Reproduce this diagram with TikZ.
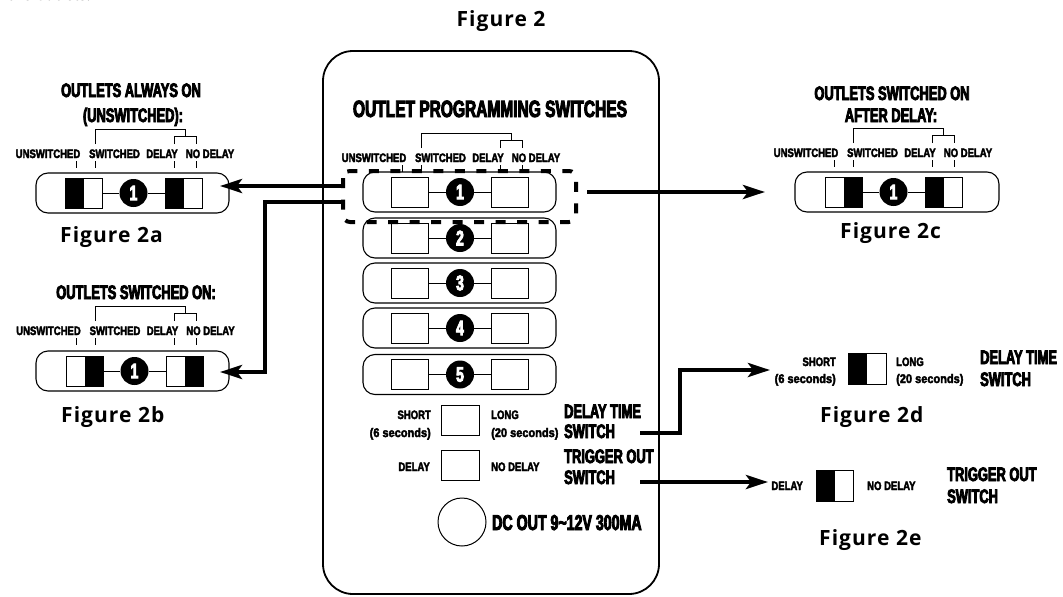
\documentclass[tikz,border=0pt]{standalone}
\usepackage{fontspec}
\usetikzlibrary{arrows.meta}
\setmainfont{Open Sans}
\newfontfamily\figfont[LetterSpace=5]{Open Sans}
\newfontfamily\cfl[FakeStretch=0.66,FakeBold=4]{Liberation Sans Bold}
\newfontfamily\cfs[FakeStretch=0.78,FakeBold=3]{Liberation Sans Bold}
\newfontfamily\cfm[FakeStretch=0.88,FakeBold=3]{Liberation Sans Bold}
\tikzset{
  sq/.style={draw, line width=1pt, minimum width=37pt, minimum height=30pt, inner sep=0pt, fill=white},
  numc/.style={circle, fill=black, minimum size=28pt, inner sep=0pt, text=white, font=\cfl\fontsize{21}{21}\selectfont},
  lab/.style={inner sep=0pt, font=\cfs\fontsize{12.2}{13}\selectfont},
  labp/.style={inner sep=0pt, font=\cfm\fontsize{12.5}{13}\selectfont},
  ttl/.style={inner sep=0pt, font=\cfl\fontsize{19.5}{21}\selectfont},
  big/.style={inner sep=0pt, font=\cfl\fontsize{19.5}{21}\selectfont},
  rowbox/.style={draw, line width=1.1pt, rounded corners=12pt},
  thinl/.style={line width=0.9pt},
  arr/.style={line width=4pt, -{Stealth[length=22pt,width=14pt,inset=5pt]}},
  fig/.style={inner sep=0pt, font=\figfont\bfseries\fontsize{21}{24}\selectfont},
}
\newcommand\halffill[2]{\ifcase#2\relax\or\fill (#1.north west) rectangle (#1.south);\or\fill (#1.north) rectangle (#1.south east);\fi}
\newcommand\swrow[8]{%
  \draw[rowbox] ({#2+#5},{#3-20}) rectangle ({#2+#6},{#3+20});
  \node[sq] (#1l) at ({#2-50},#3) {};
  \node[sq] (#1r) at ({#2+50},#3) {};
  \node[numc] (#1n) at (#2,#3) {#4};
  \draw[thinl] (#1l) -- (#1n) -- (#1r);
  \halffill{#1l}{#7}\halffill{#1r}{#8}%
}
\newcommand\lblset[3]{%
  \begin{scope}[shift={(#2,#3)}]
    \node[lab, anchor=base] (#1u) at (374,162) {UNSWITCHED};
    \node[lab, anchor=base] (#1s) at (440.5,162) {SWITCHED};
    \node[lab, anchor=base] (#1d) at (488,162) {DELAY};
    \node[lab, anchor=base] (#1nd) at (536,162) {NO DELAY};
    \draw[thinl] (402,165) -- (402,172) (421,165) -- (421,172)
                 (500,165) -- (500,172) (522,165) -- (522,172);
    \draw[thinl] (421,148) |- (511,133) -- (511,140);
    \draw[thinl] (500,148) |- (522,140) -- (522,148);
  \end{scope}
}
\begin{document}
\begin{tikzpicture}[x=1pt,y=-1pt]
\useasboundingbox (0,0) rectangle (1063,597);

% cut-off text at top left
\node[anchor=base west, inner sep=0pt, font=\itshape\fontsize{17}{20}\selectfont] (cut) at (-3,1) {r the outlets.};

% title
\node[fig, anchor=base] (fig2) at (501,27) {Figure 2};

% main panel
\draw[line width=1.8pt, rounded corners=30pt] (323,51) rectangle (659,594);
\node[inner sep=0pt, anchor=base, font=\cfl\fontsize{23.5}{25}\selectfont] (ops) at (490,117) {OUTLET PROGRAMMING SWITCHES};

\lblset{m}{0}{0}
\swrow{ra}{460}{192}{1}{-97}{96}{0}{0}
\swrow{rb}{460}{238}{2}{-97}{96}{0}{0}
\swrow{rc}{460}{283}{3}{-97}{96}{0}{0}
\swrow{rd}{460}{328}{4}{-97}{96}{0}{0}
\swrow{re}{460}{374.5}{5}{-97}{96}{0}{0}

% selection highlight
\draw[line width=4pt, dash pattern=on 10pt off 11.5pt, rounded corners=7pt] (343,171) rectangle (576,222);

% delay time switch
\node[sq, minimum width=38pt] (dts) at (460,420) {};
\node[lab, anchor=base east] (dtshort) at (431,419) {SHORT};
\node[labp, anchor=base east] (dtsix) at (431,437) {(6 seconds)};
\node[lab, anchor=base west] (dtlong) at (491,419) {LONG};
\node[labp, anchor=base west] (dttw) at (491,437) {(20 seconds)};
\node[big, anchor=base west] (dtt1) at (564,418) {DELAY TIME};
\node[big, anchor=base west] (dtt2) at (564,438) {SWITCH};

% trigger out switch
\node[sq, minimum width=38pt] (tos) at (460,465) {};
\node[lab, anchor=base east] (todel) at (430,471) {DELAY};
\node[lab, anchor=base west] (tonod) at (491,471) {NO DELAY};
\node[big, anchor=base west] (tot1) at (564,463) {TRIGGER OUT};
\node[big, anchor=base west] (tot2) at (564,484) {SWITCH};

% DC out
\node[circle, draw, line width=1pt, minimum size=48pt, inner sep=0pt] (dc) at (462,522) {};
\node[inner sep=0pt, anchor=base west, font=\cfl\fontsize{21.5}{23}\selectfont] (dct) at (492,530) {DC OUT 9\textasciitilde12V 300MA};

% Figure 2a
\node[ttl, anchor=base] (at1) at (131,97) {OUTLETS ALWAYS ON};
\node[ttl, anchor=base] (at2) at (133,122) {(UNSWITCHED):};
\lblset{a}{-326}{-4}
\swrow{fa}{133.5}{193}{1}{-97.5}{95.5}{1}{1}
\node[fig, anchor=base west] (fig2a) at (60,242) {Figure 2a};

% Figure 2b
\node[ttl, anchor=base] (bt1) at (136,299) {OUTLETS SWITCHED ON:};
\lblset{b}{-325.5}{173}
\swrow{fb}{134.5}{371}{1}{-98.5}{94.5}{2}{2}
\node[fig, anchor=base west] (fig2b) at (61,422) {Figure 2b};

% Figure 2c
\node[ttl, anchor=base] (ct1) at (892,100) {OUTLETS SWITCHED ON};
\node[ttl, anchor=base] (ct2) at (891,122) {AFTER DELAY:};
\lblset{c}{432}{-5}
\swrow{fc}{893.5}{192}{1}{-98.5}{105.5}{2}{1}
\node[fig, anchor=base west] (fig2c) at (840,238) {Figure 2c};

% Figure 2d
\node[sq, minimum width=38pt, minimum height=31pt] (fds) at (867,368.5) {};
\fill (fds.north west) rectangle (fds.south);
\node[lab, anchor=base east] (dshort) at (836,366) {SHORT};
\node[labp, anchor=base east] (dsix) at (836,383) {(6 seconds)};
\node[lab, anchor=base west] (dlong) at (896,366) {LONG};
\node[labp, anchor=base west] (dtw) at (896,383) {(20 seconds)};
\node[big, anchor=base west] (dt1) at (980,364) {DELAY TIME};
\node[big, anchor=base west] (dt2) at (980,386) {SWITCH};
\node[fig, anchor=base west] (fig2d) at (820,422) {Figure 2d};

% Figure 2e
\node[sq, minimum width=37pt, minimum height=31pt] (fes) at (834.5,485.5) {};
\fill (fes.north west) rectangle (fes.south);
\node[lab, anchor=base east] (edel) at (803,490) {DELAY};
\node[lab, anchor=base west] (enod) at (867,490) {NO DELAY};
\node[big, anchor=base west] (et1) at (947,481) {TRIGGER OUT};
\node[big, anchor=base west] (et2) at (947,503) {SWITCH};
\node[fig, anchor=base west] (fig2e) at (819,545) {Figure 2e};

% connectors
\coordinate (selL1) at (345,186);
\coordinate (tipA) at (220,186);
\coordinate (selL2) at (345,202);
\coordinate (kB) at (265,372);
\coordinate (tipB) at (220,372);
\coordinate (selR) at (587,192);
\coordinate (tipC) at (765,192);
\coordinate (dtStart) at (640,433);
\coordinate (kD) at (680,370);
\coordinate (tipD) at (770,370);
\coordinate (toStart) at (640,482);
\coordinate (tipE) at (768,482);
\draw[arr] (selL1) -- (tipA);
\draw[arr] (selL2) -| (kB) -- (tipB);
\draw[arr] (selR) -- (tipC);
\draw[arr] (dtStart) -| (kD) -- (tipD);
\draw[arr] (toStart) -- (tipE);
\end{tikzpicture}
\end{document}
